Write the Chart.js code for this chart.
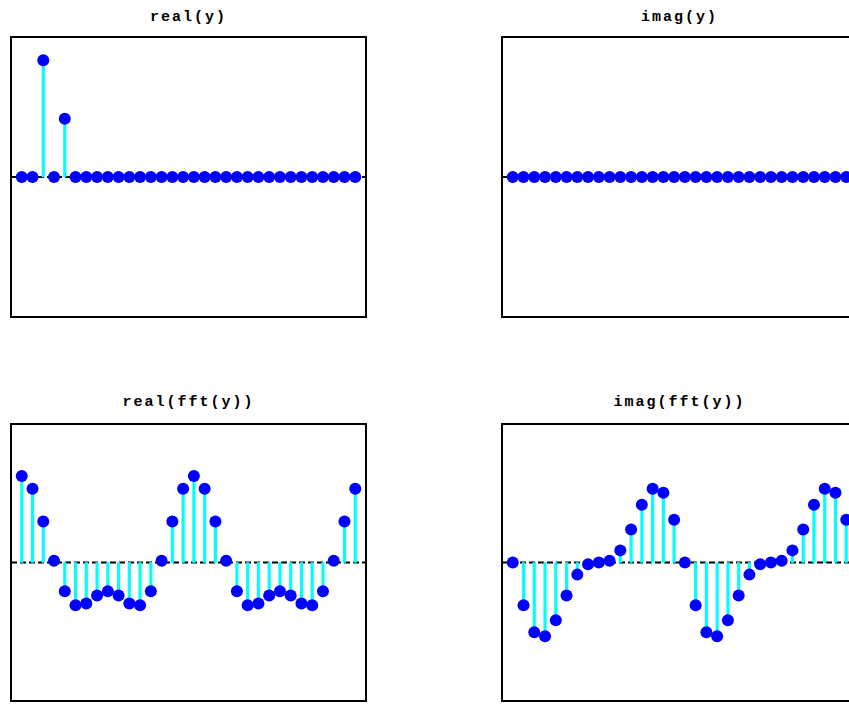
<!DOCTYPE html>
<html>
<head>
<meta charset="utf-8">
<script src="https://cdn.jsdelivr.net/npm/chart.js@4/dist/chart.umd.min.js"></script>
<style>
  html, body { margin: 0; padding: 0; background: #fff; width: 849px; height: 704px; overflow: hidden; }
  .panel { position: absolute; }
  .title { position: absolute; text-align: center; font-family: "Liberation Mono", monospace; font-weight: bold;
           font-size: 15px; line-height: 15px; letter-spacing: 2px; color: #000; }
</style>
</head>
<body>
<div class="title" style="left:9px; top:10px; width:359px;">real(y)</div>
<div class="title" style="left:500px; top:10px; width:359px;">imag(y)</div>
<div class="title" style="left:9px; top:395px; width:359px;">real(fft(y))</div>
<div class="title" style="left:500px; top:395px; width:359px;">imag(fft(y))</div>

<canvas id="c1" class="panel" width="367" height="292" style="left:5px; top:31px;"></canvas>
<canvas id="c2" class="panel" width="367" height="292" style="left:496px; top:31px;"></canvas>
<canvas id="c3" class="panel" width="367" height="289" style="left:5px; top:418px;"></canvas>
<canvas id="c4" class="panel" width="367" height="289" style="left:496px; top:418px;"></canvas>

<script>
// ---- data ----
const xIndex = [1,2,3,4,5,6,7,8,9,10,11,12,13,14,15,16,17,18,19,20,21,22,23,24,25,26,27,28,29,30,31,32];

const realY = [0,0,1,0,0.5,0,0,0,0,0,0,0,0,0,0,0,0,0,0,0,0,0,0,0,0,0,0,0,0,0,0,0];
const imagY = [0,0,0,0,0,0,0,0,0,0,0,0,0,0,0,0,0,0,0,0,0,0,0,0,0,0,0,0,0,0,0,0];

const realFftY = [1.5, 1.28, 0.71, 0.03, -0.5, -0.74, -0.71, -0.57,
                  -0.5, -0.57, -0.71, -0.74, -0.5, 0.03, 0.71, 1.28,
                  1.5, 1.28, 0.71, 0.03, -0.5, -0.74, -0.71, -0.57,
                  -0.5, -0.57, -0.71, -0.74, -0.5, 0.03, 0.71, 1.28];

const imagFftY = [0, -0.74, -1.21, -1.28, -1, -0.57, -0.21, -0.03,
                  0, 0.03, 0.21, 0.57, 1, 1.28, 1.21, 0.74,
                  0, -0.74, -1.21, -1.28, -1, -0.57, -0.21, -0.03,
                  0, 0.03, 0.21, 0.57, 1, 1.28, 1.21, 0.74];

// axis limits
const xLimits = [0, 33];
const topYLimits = [-1.2, 1.2];
const bottomYLimits = [-2.4, 2.4];

// ---- drawing ----
const framePlugin = {
  id: 'frame',
  beforeDatasetsDraw(chart) {
    const { ctx, chartArea: a, scales } = chart;
    const y0 = scales.y.getPixelForValue(0);
    ctx.save();
    ctx.strokeStyle = '#000';
    ctx.lineWidth = 2;
    ctx.setLineDash([6, 3]);
    ctx.beginPath();
    ctx.moveTo(a.left, y0);
    ctx.lineTo(a.right, y0);
    ctx.stroke();
    ctx.restore();
  },
  afterDraw(chart) {
    const { ctx, chartArea: a } = chart;
    ctx.save();
    ctx.strokeStyle = '#000';
    ctx.lineWidth = 2;
    ctx.strokeRect(a.left, a.top, a.right - a.left, a.bottom - a.top);
    ctx.restore();
  }
};

function makePanel(id, values, yLim) {
  const pts = xIndex.map((x, i) => ({ x: x, y: values[i] }));
  new Chart(document.getElementById(id), {
    data: {
      datasets: [
        { type: 'bar', data: pts, backgroundColor: '#00ffff', borderWidth: 0,
          barThickness: 2.5, order: 2 },
        { type: 'scatter', data: pts, pointRadius: 6, pointStyle: 'circle',
          backgroundColor: '#0000ff', borderColor: '#0000ff', borderWidth: 0, order: 1 }
      ]
    },
    options: {
      responsive: false,
      animation: false,
      devicePixelRatio: 1,
      layout: { padding: 4 },
      plugins: { legend: { display: false }, tooltip: { enabled: false }, title: { display: false } },
      scales: {
        x: { type: 'linear', min: xLimits[0], max: xLimits[1], offset: false, display: false },
        y: { type: 'linear', min: yLim[0], max: yLim[1], display: false }
      }
    },
    plugins: [framePlugin]
  });
}

makePanel('c1', realY, topYLimits);
makePanel('c2', imagY, topYLimits);
makePanel('c3', realFftY, bottomYLimits);
makePanel('c4', imagFftY, bottomYLimits);
</script>
</body>
</html>
